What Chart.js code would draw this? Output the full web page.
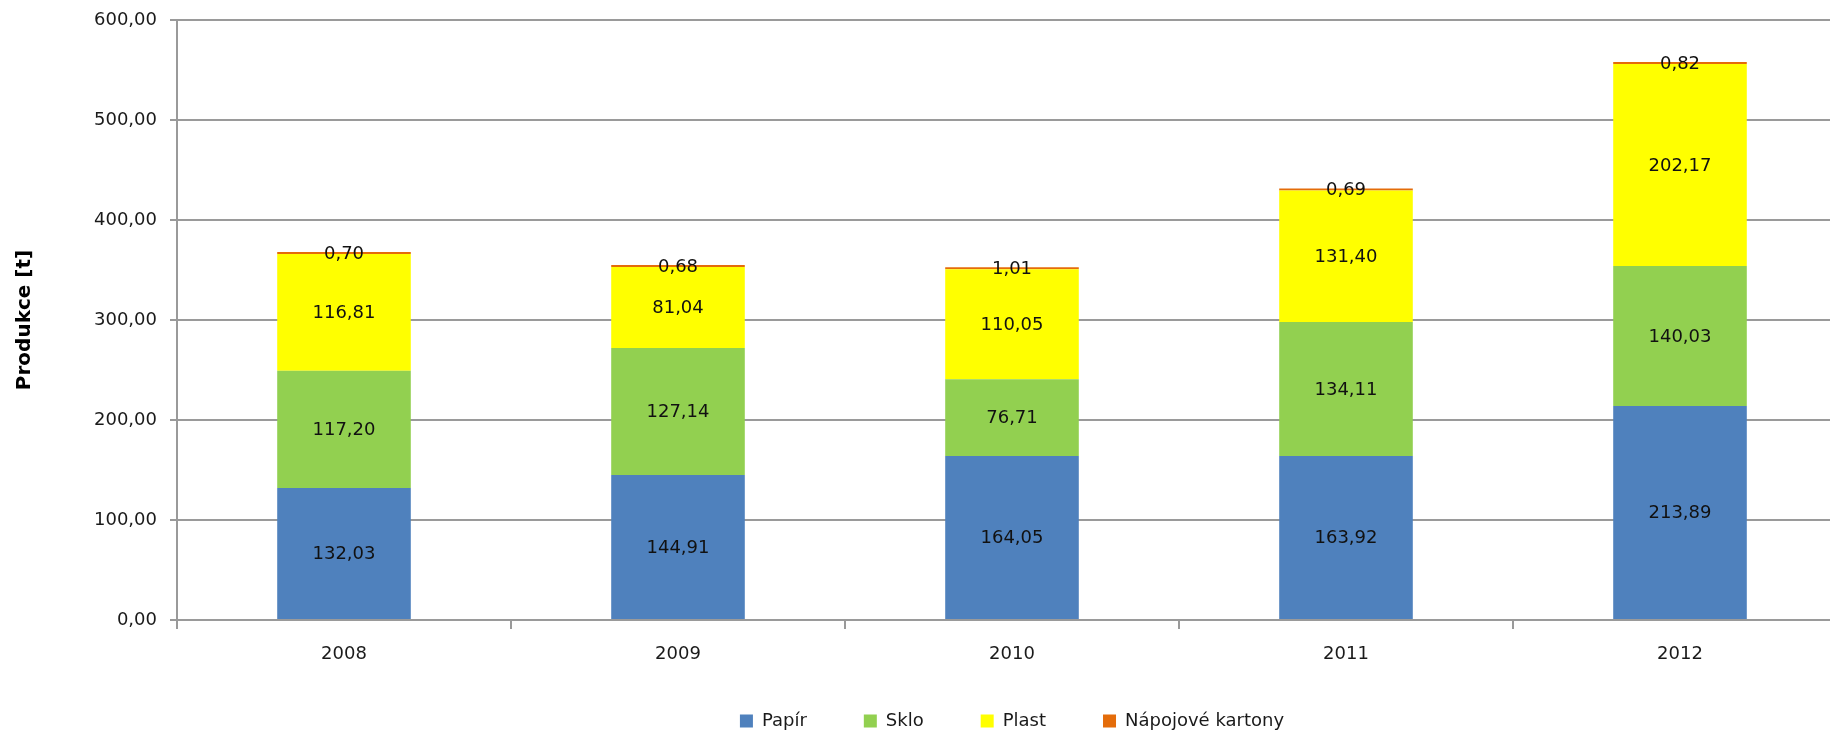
<!DOCTYPE html>
<html>
<head>
<meta charset="utf-8">
<script src="https://cdn.jsdelivr.net/npm/chart.js@4/dist/chart.umd.min.js"></script>
<style>
  html, body { margin: 0; padding: 0; background: #ffffff; overflow: hidden; width: 1830px; height: 731px; }
  #wrap { position: absolute; left: 0; top: 0; }
  canvas { display: block; }
</style>
</head>
<body>
<div id="wrap"><canvas id="c" width="1850" height="751"></canvas></div>
<script>
const years = ['2008', '2009', '2010', '2011', '2012'];
const papir = [132.03, 144.91, 164.05, 163.92, 213.89];
const sklo = [117.20, 127.14, 76.71, 134.11, 140.03];
const plast = [116.81, 81.04, 110.05, 131.40, 202.17];
const napojoveKartony = [0.70, 0.68, 1.01, 0.69, 0.82];
const seriesNames = ['Papír', 'Sklo', 'Plast', 'Nápojové kartony'];
const yTickValues = [0, 100, 200, 300, 400, 500, 600];
const yAxisTitle = 'Produkce [t]';

const colors = ['#4F81BD', '#92D050', '#FFFF00', '#E46C0A'];
const FONT = '"DejaVu Sans", Verdana, sans-serif';
const fmt = v => v.toFixed(2).replace('.', ',');

const dataLabels = {
  id: 'dataLabels',
  afterDatasetsDraw(chart) {
    const ctx = chart.ctx;
    ctx.save();
    ctx.font = '18px ' + FONT;
    ctx.fillStyle = '#111111';
    ctx.textAlign = 'center';
    ctx.textBaseline = 'middle';
    chart.data.datasets.forEach((ds, di) => {
      const meta = chart.getDatasetMeta(di);
      meta.data.forEach((el, i) => {
        const p = el.getProps(['x', 'y', 'base'], true);
        ctx.fillText(fmt(ds.data[i]), p.x, (p.y + p.base) / 2 + 1);
      });
    });
    ctx.restore();
  }
};

// centre the legend under the plot area and pull it up a little (as in the reference)
const placeLegend = {
  id: 'placeLegend',
  afterLayout(chart) {
    const lg = chart.legend;
    const ca = chart.chartArea;
    if (lg && ca) {
      const dx = (ca.left + ca.right) / 2 - (lg.left + lg.right) / 2;
      lg.left += dx; lg.right += dx;
      lg.top -= 11; lg.bottom -= 11;
    }
  }
};

new Chart(document.getElementById('c'), {
  type: 'bar',
  data: {
    labels: years,
    datasets: [
      { label: seriesNames[0], data: papir, backgroundColor: colors[0] },
      { label: seriesNames[1], data: sklo, backgroundColor: colors[1] },
      { label: seriesNames[2], data: plast, backgroundColor: colors[2] },
      { label: seriesNames[3], data: napojoveKartony, backgroundColor: colors[3], minBarLength: 2 }
    ]
  },
  options: {
    responsive: false,
    animation: false,
    devicePixelRatio: 1,
    layout: { padding: { left: 0, right: 3, top: 20, bottom: 0 } },
    datasets: { bar: { barPercentage: 0.4, categoryPercentage: 1.0, borderWidth: 0 } },
    plugins: {
      tooltip: { enabled: false },
      legend: {
        position: 'bottom',
        labels: {
          font: { family: FONT, size: 18 },
          color: '#1a1a1a',
          boxWidth: 13,
          boxHeight: 13,
          padding: 57
        }
      }
    },
    scales: {
      x: {
        stacked: true,
        grid: { display: true, drawOnChartArea: false, drawTicks: true, tickLength: 9, color: '#9a9a9a', lineWidth: 2, offset: true },
        border: { display: true, color: '#9a9a9a', width: 2 },
        ticks: { font: { family: FONT, size: 18 }, color: '#1a1a1a', padding: 15, maxRotation: 0 },
        afterFit(scale) { scale.height = 46; }
      },
      y: {
        stacked: true,
        min: 0,
        max: 600,
        afterBuildTicks(scale) { scale.ticks = yTickValues.map(v => ({ value: v })); },
        grid: { color: '#9a9a9a', lineWidth: 2, drawTicks: true, tickLength: 7 },
        border: { display: true, color: '#9a9a9a', width: 2 },
        ticks: { font: { family: FONT, size: 18 }, color: '#1a1a1a', padding: 13, callback: v => fmt(v) },
        title: { display: true, text: yAxisTitle, font: { family: FONT, size: 20, weight: 'bold' }, color: '#000000', padding: { top: 13, bottom: 0 } },
        afterFit(scale) { scale.width = 177; scale.paddingTop = 0; scale.paddingBottom = 0; }
      }
    }
  },
  plugins: [dataLabels, placeLegend]
});
</script>
</body>
</html>
